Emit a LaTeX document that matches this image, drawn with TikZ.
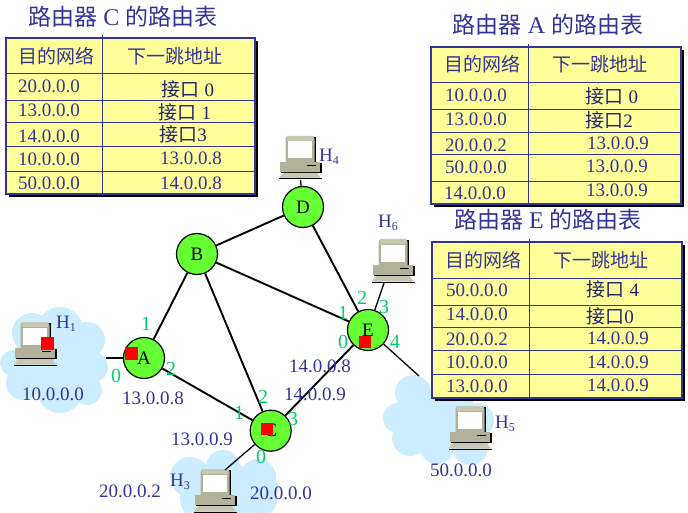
\documentclass[tikz,border=0pt]{standalone}
\usepackage{fontspec}
\setmainfont{Liberation Serif}
\newfontfamily\cjk{Noto Sans CJK SC}
\definecolor{navy}{HTML}{333399}
\definecolor{routergreen}{HTML}{66FF33}
\definecolor{cloudblue}{HTML}{CCECFF}
\definecolor{tablefill}{HTML}{FFFF99}
\definecolor{portgreen}{HTML}{00CC66}
\definecolor{pcbody}{HTML}{B2B29A}
\definecolor{pclight}{HTML}{C8C8B2}
\newcommand{\hsub}[1]{H\raisebox{-3pt}{\fontsize{12}{12}\selectfont #1}}
\newcommand{\tinytitle}[1]{{\cjk\fontsize{23}{23}\selectfont #1}}
\tikzset{
  x=1pt,y=-1pt,
  router/.style={circle,draw=black,line width=1.2pt,fill=routergreen,minimum size=41pt,inner sep=0pt,font=\fontsize{19}{19}\selectfont},
  link/.style={draw=black,line width=1.9pt},
  hostlink/.style={draw=black,line width=1.3pt},
  cloudshape/.style={fill=cloudblue,draw=none},
  netlabel/.style={text=navy,inner sep=0pt,font=\fontsize{19}{19}\selectfont},
  port/.style={text=portgreen,inner sep=0pt,font=\fontsize{20}{20}\selectfont},
  titletext/.style={text=navy,inner sep=0pt,font=\fontsize{24}{24}\selectfont},
  headcell/.style={text=navy,inner sep=0pt,font=\cjk\fontsize{19}{19}\selectfont},
  cell/.style={text=navy,inner sep=0pt,font=\fontsize{19}{19}\selectfont},
  ifcell/.style={text=navy!70!black,inner sep=0pt,font=\fontsize{19}{19}\selectfont},
  marker/.style={fill=red,draw=none},
  tableframe/.style={fill=tablefill,draw=navy,line width=2.2pt},
  tablerule/.style={draw=navy,line width=1pt},
  computer/.pic={
    \fill[black] (35,1) rectangle (37,26);
    \fill[pcbody] (6.5,3) -- (8,0) -- (34,0) -- (35.5,3) -- (35.5,26) -- (6.5,26) -- cycle;
    \fill[pclight] (8,0) rectangle (34,5);
    \fill[white] (8.5,5.5) rectangle (32.5,22.5);
    \fill[black] (2,34.5) rectangle (42.5,37);
    \fill[black] (40.5,27) rectangle (42.5,37);
    \fill[pcbody] (1,26) rectangle (41,36);
    \draw[black,line width=.8pt] (28,29.5) -- (37,29.5);
    \fill[pclight] (4,37) -- (38,37) -- (42,42.5) -- (0,42.5) -- cycle;
    \fill[black] (0,42.5) rectangle (43,43.5);
    \coordinate (-foot) at (21.5,44);
  }
}
\newcommand{\routetable}[7]{% name, left, top, right, bottom, column, rows
  \fill[black] (#2+3,#3+3) rectangle (#4+3,#5+3);
  \path[tableframe] (#2,#3) rectangle (#4,#5);
  \foreach \r in {#7} {\draw[tablerule] (#2,\r) -- (#4,\r);}
  \draw[tablerule] (#6,#3-3) -- (#6,#5);
}
\begin{document}
\begin{tikzpicture}
\useasboundingbox (0,0) rectangle (688,513);
\clip (0,0) rectangle (688,513);
% clouds
\foreach \cx/\cy/\cr in {13/363/13,32/333/20,60/330/23,87/340/18,93/367/15,87/390/15,60/390/23,23/383/17,55/360/35,35/360/22,75/365/25}
  {\fill[cloudshape] (\cx,\cy) circle[radius=\cr];}
\foreach \cx/\cy/\cr in {223/467/17,190/477/20,258/477/18,270/488/9,205/498/25,235/495/30,262/500/15,225/485/22}
  {\fill[cloudshape] (\cx,\cy) circle[radius=\cr];}
\foreach \cx/\cy/\cr in {413/393/18,398/418/15,410/438/18,437/447/17,470/447/18,477/420/17,453/400/20,440/420/30,418/415/22,460/425/25}
  {\fill[cloudshape] (\cx,\cy) circle[radius=\cr];}
% tables
\routetable{c}{6}{38}{255}{194}{102}{74,101,123,147,172}
\routetable{a}{431}{47}{681}{204}{528}{83,110,133,155,182}
\routetable{e}{432}{242}{682}{398}{529}{278,305,327,350,374}
% titles
\node[titletext] (titleC) at (123,17) {\tinytitle{路由器} C \tinytitle{的路由表}};
\node[titletext] (titleA) at (548,25) {\tinytitle{路由器} A \tinytitle{的路由表}};
\node[titletext] (titleE) at (548,220) {\tinytitle{路由器} E \tinytitle{的路由表}};
% headers
\node[headcell] (cH1) at (56,56) {目的网络};
\node[headcell] (cH2) at (175,56) {下一跳地址};
\node[headcell] (aH1) at (482,64) {目的网络};
\node[headcell] (aH2) at (600,64) {下一跳地址};
\node[headcell] (eH1) at (483,260) {目的网络};
\node[headcell] (eH2) at (601,260) {下一跳地址};
% table C
\node[cell] (c1) at (49,86) {20.0.0.0};
\node[cell] (c2) at (49,110) {13.0.0.0};
\node[cell] (c3) at (49,136) {14.0.0.0};
\node[cell] (c4) at (49,159) {10.0.0.0};
\node[cell] (c5) at (49,183) {50.0.0.0};
\node[ifcell] (c1h) at (188,89) {{\cjk 接口} 0};
\node[ifcell] (c2h) at (185,112) {{\cjk 接口} 1};
\node[ifcell] (c3h) at (183,134) {{\cjk 接口}3};
\node[cell] (c4h) at (191,158) {13.0.0.8};
\node[cell] (c5h) at (191,183) {14.0.0.8};
% table A
\node[cell] (a1) at (476,95) {10.0.0.0};
\node[cell] (a2) at (476,119) {13.0.0.0};
\node[cell] (a3) at (476,145) {20.0.0.2};
\node[cell] (a4) at (476,167) {50.0.0.0};
\node[cell] (a5) at (475,193) {14.0.0.0};
\node[ifcell] (a1h) at (612,96) {{\cjk 接口} 0};
\node[ifcell] (a2h) at (609,120) {{\cjk 接口}2};
\node[cell] (a3h) at (618,143) {13.0.0.9};
\node[cell] (a4h) at (617,166) {13.0.0.9};
\node[cell] (a5h) at (617,190) {13.0.0.9};
% table E
\node[cell] (e1) at (477,290) {50.0.0.0};
\node[cell] (e2) at (477,314) {14.0.0.0};
\node[cell] (e3) at (477,339) {20.0.0.2};
\node[cell] (e4) at (477,362) {10.0.0.0};
\node[cell] (e5) at (477,386) {13.0.0.0};
\node[ifcell] (e1h) at (613,289) {{\cjk 接口} 4};
\node[ifcell] (e2h) at (610,316) {{\cjk 接口}0};
\node[cell] (e3h) at (618,338) {14.0.0.9};
\node[cell] (e4h) at (618,362) {14.0.0.9};
\node[cell] (e5h) at (618,385) {14.0.0.9};
% computers
\pic (hone) at (14,322) {computer};
\pic (hthree) at (194,469) {computer};
\pic (hfour) at (279,136) {computer};
\pic (hfive) at (449,406) {computer};
\pic (hsix) at (372,239) {computer};
% routers
\node[router] (A) at (144,358) {A};
\node[router] (B) at (197,254) {B};
\node[router] (C) at (270.7,430.7) {C};
\node[router] (D) at (303,207) {D};
\node[router] (E) at (368,330) {E};
% free ends
\coordinate (toHone) at (106,358);
\coordinate (toHthree) at (225,470);
\coordinate (toHsix) at (384,283);
\coordinate (toHfive) at (419,376);
% connectors
\draw[link] (A) -- (B);
\draw[link] (A) -- (C);
\draw[link] (B) -- (C);
\draw[link] (B) -- (D);
\draw[link] (B) -- (E);
\draw[link] (D) -- (E);
\draw[link] (C) -- (E);
\draw[hostlink] (A) -- (toHone);
\draw[hostlink] (C) -- (toHthree);
\draw[hostlink] (D) -- (hfour-foot);
\draw[hostlink] (E) -- (toHsix);
\draw[hostlink] (E) -- (toHfive);
% red markers
\fill[marker] (41,337) rectangle (54,350);
\fill[marker] (125,347) rectangle (138,360);
\fill[marker] (261,423) rectangle (273,435);
\fill[marker] (359,336) rectangle (371,348);
% network labels
\node[netlabel] (n1) at (53,394) {10.0.0.0};
\node[netlabel] (n2) at (153,398) {13.0.0.8};
\node[netlabel] (n3) at (202,439) {13.0.0.9};
\node[netlabel] (n4) at (130,491) {20.0.0.2};
\node[netlabel] (n5) at (281,493) {20.0.0.0};
\node[netlabel] (n6) at (320,366) {14.0.0.8};
\node[netlabel] (n7) at (315,394) {14.0.0.9};
\node[netlabel] (n8) at (461,470) {50.0.0.0};
% host labels
\node[netlabel] (lh1) at (66,324) {\hsub{1}};
\node[netlabel] (lh3) at (180,482) {\hsub{3}};
\node[netlabel] (lh4) at (329,157) {\hsub{4}};
\node[netlabel] (lh5) at (505,424) {\hsub{5}};
\node[netlabel] (lh6) at (388,223) {\hsub{6}};
% ports
\node[port] (pa1) at (146,324) {1};
\node[port] (pa2) at (171,369) {2};
\node[port] (pa0) at (116,376) {0};
\node[port] (pc1) at (239,413) {1};
\node[port] (pc2) at (263,397) {2};
\node[port] (pc3) at (293,419) {3};
\node[port] (pc0) at (261,457) {0};
\node[port] (pe1) at (343,313) {1};
\node[port] (pe2) at (362,298) {2};
\node[port] (pe3) at (384,307) {3};
\node[port] (pe4) at (395,342) {4};
\node[port] (pe0) at (343,342) {0};
\end{tikzpicture}
\end{document}
